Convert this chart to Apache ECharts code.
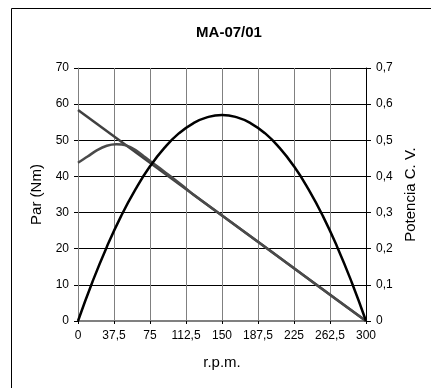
<!DOCTYPE html>
<html>
<head>
<meta charset="utf-8">
<script src="https://cdn.jsdelivr.net/npm/echarts@6/dist/echarts.min.js"></script>
<style>
  html, body { margin: 0; padding: 0; background: #fff; }
  #chart { width: 431px; height: 388px; }
</style>
</head>
<body>
<div id="chart"></div>
<script>
// MA-07/01 curva par / potencia
const rpmTicks = [0, 37.5, 75, 112.5, 150, 187.5, 225, 262.5, 300];

// par (Nm), recta
const rpmPar1 = [0, 300];
const par1 = [58.4, 0];

// par (Nm), curva con arranque
const rpmPar2 = [0, 10, 20, 30, 40, 50, 60, 70, 80, 90, 100, 110, 120, 150, 200, 250, 300];
const par2 = [43.8, 45.5, 47.3, 48.5, 48.9, 48.6, 47.3, 45.3, 43.3, 41.3, 39.3, 37.2, 35.0, 29.2, 19.5, 9.7, 0];

// potencia C.V.
const rpmPot = [0, 15, 30, 45, 60, 75, 90, 105, 120, 135, 150, 165, 180, 195, 210, 225, 240, 255, 270, 285, 300];
const potencia = [0, 0.108, 0.205, 0.291, 0.365, 0.428, 0.479, 0.519, 0.547, 0.564, 0.57, 0.564, 0.547, 0.519, 0.479, 0.428, 0.365, 0.291, 0.205, 0.108, 0];

const zip = (xs, ys) => xs.map((x, i) => [x, ys[i]]);
const comma = (v) => String(v).replace('.', ',');
const font = 'Liberation Sans, Arial, sans-serif';

const chart = echarts.init(document.getElementById('chart'));
chart.setOption({
  animation: false,
  backgroundColor: '#fff',
  title: {
    text: 'MA-07/01',
    left: 224,
    textAlign: 'center',
    top: 20,
    textStyle: { fontFamily: font, fontSize: 15, fontWeight: 'bold', color: '#000' }
  },
  graphic: [{
    type: 'rect',
    z: -10,
    shape: { x: 11.5, y: 8.5, width: 600, height: 600 },
    style: { fill: 'none', stroke: '#000', lineWidth: 1 }
  }],
  grid: { left: 78, right: 65, top: 68, bottom: 67 },
  xAxis: {
    type: 'value',
    min: 0, max: 300, interval: 37.5,
    name: 'r.p.m.',
    nameLocation: 'middle',
    nameGap: 34,
    nameTextStyle: { fontFamily: font, fontSize: 15, color: '#000' },
    axisLine: { show: true, lineStyle: { color: '#808080', width: 2 } },
    axisTick: { show: true, length: 3, lineStyle: { color: '#000' } },
    axisLabel: { fontFamily: font, fontSize: 12, color: '#000', margin: 9, formatter: comma },
    splitLine: { show: true, lineStyle: { color: '#808080', width: 1 } }
  },
  yAxis: [{
    type: 'value',
    min: 0, max: 70, interval: 10,
    name: 'Par (Nm)',
    nameLocation: 'middle',
    nameGap: 33,
    nameTextStyle: { fontFamily: font, fontSize: 15, color: '#000' },
    axisLine: { show: true, lineStyle: { color: '#808080', width: 1 } },
    axisTick: { show: true, length: 4, lineStyle: { color: '#000' } },
    axisLabel: { fontFamily: font, fontSize: 12, color: '#000', margin: 9 },
    splitLine: { show: true, lineStyle: { color: '#000', width: 1 } }
  }, {
    type: 'value',
    position: 'right',
    min: 0, max: 0.7, interval: 0.1,
    name: 'Potencia C. V.',
    nameLocation: 'middle',
    nameGap: 36,
    nameRotate: 90,
    nameTextStyle: { fontFamily: font, fontSize: 15, color: '#000' },
    axisLine: { show: true, lineStyle: { color: '#000', width: 1 } },
    axisTick: { show: true, length: 5, lineStyle: { color: '#000' } },
    axisLabel: {
      fontFamily: font, fontSize: 12, color: '#000', margin: 10,
      formatter: (v) => v === 0 ? '0' : comma(v.toFixed(1))
    },
    splitLine: { show: false }
  }],
  series: [{
    type: 'line',
    yAxisIndex: 0,
    data: zip(rpmPar1, par1),
    symbol: 'none',
    lineStyle: { color: '#404040', width: 2.5 }
  }, {
    type: 'line',
    yAxisIndex: 0,
    data: zip(rpmPar2, par2),
    symbol: 'none',
    smooth: 0.3,
    lineStyle: { color: '#4a4a4a', width: 2.5 }
  }, {
    type: 'line',
    yAxisIndex: 1,
    data: zip(rpmPot, potencia),
    symbol: 'none',
    smooth: true,
    lineStyle: { color: '#000', width: 2.5 }
  }]
});
</script>
</body>
</html>
